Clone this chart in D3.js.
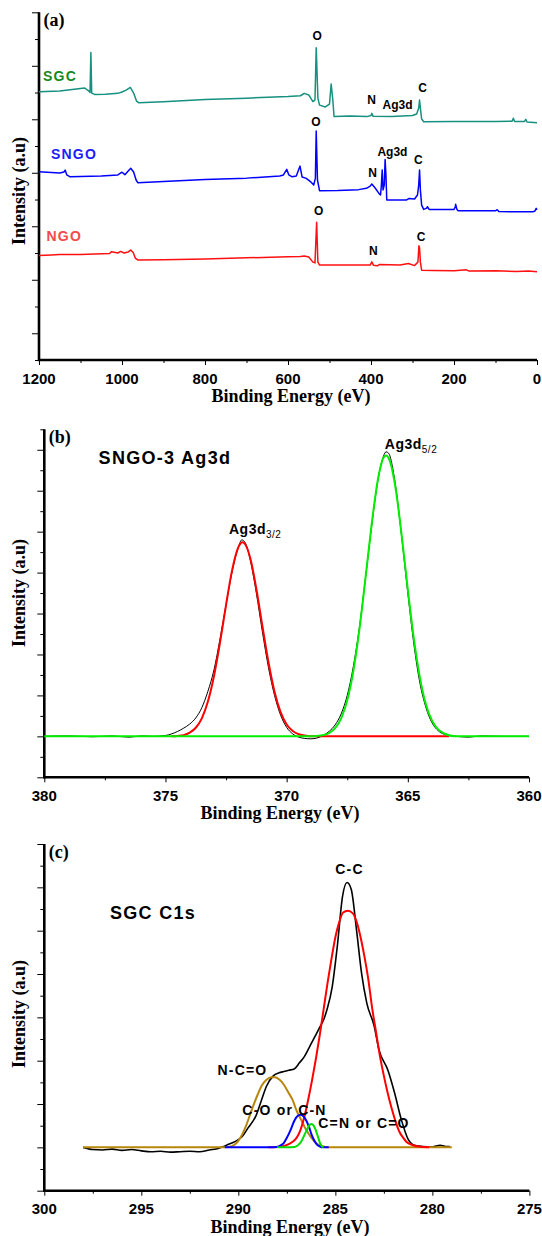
<!DOCTYPE html>
<html>
<head>
<meta charset="utf-8">
<script src="https://cdn.jsdelivr.net/npm/d3@7"></script>
<style>
  body { margin: 0; background: #fff; }
  svg { display: block; }
  .tick-label { font: bold 15px "Liberation Sans", Arial, sans-serif; fill: #000; }
  .axis-title { font: bold 18px "Liberation Serif", "Times New Roman", serif; fill: #000; }
  .panel-tag { font: bold 18px "Liberation Serif", "Times New Roman", serif; fill: #000; }
  .peak-label { font: bold 12px "Liberation Sans", Arial, sans-serif; fill: #000; }
  .series-label { font: bold 14px "Liberation Sans", Arial, sans-serif; letter-spacing: 1.2px; }
  .big-label { font: bold 18px "Liberation Sans", Arial, sans-serif; letter-spacing: 1.3px; fill: #000; }
  .fit-label { font: bold 14px "Liberation Sans", Arial, sans-serif; letter-spacing: 1.2px; fill: #000; }
</style>
</head>
<body>
<svg id="chart" width="542" height="1236"></svg>
<script>
// tick labels
const surveyTicks = [1200, 1000, 800, 600, 400, 200, 0];
const ag3dTicks = [380, 375, 370, 365, 360];
const c1sTicks = [300, 295, 290, 285, 280, 275];

// (a) survey spectra: [binding energy, intensity]
const sgcSurvey = [
  [1200, 10.03], [1150, 10.06], [1100, 10.15], [1090, 10.17], [1080, 10.06], [1077, 10.0], [1075, 11.5],
  [1073, 9.98], [1066, 9.93], [1040, 9.94], [1010, 9.97], [1000, 10.02], [990, 10.09], [980, 10.19],
  [972, 9.98], [965, 9.68], [960, 9.62], [900, 9.66], [800, 9.74], [700, 9.79], [600, 9.85], [570, 9.88],
  [561, 9.97], [550, 9.91], [540, 9.66], [535, 9.72], [532, 11.67], [528, 9.79], [524, 9.53], [510, 9.46],
  [500, 9.57], [496, 10.32], [492, 9.72], [489, 9.1], [450, 9.12], [410, 9.1], [400, 9.14], [398, 9.22],
  [395, 9.11], [350, 9.1], [300, 9.14], [290, 9.2], [285, 9.42], [283, 9.72], [281, 9.42], [278, 9.01],
  [273, 8.91], [200, 8.92], [100, 8.92], [60, 8.93], [57, 9.04], [54, 8.92], [30, 8.92], [27, 9.0],
  [24, 8.9], [0, 8.87]
];
const sngoSurvey = [
  [1200, 7.04], [1150, 6.99], [1140, 7.03], [1137, 7.1], [1133, 6.92], [1125, 6.85], [1050, 6.88],
  [1010, 6.92], [1000, 7.02], [993, 6.93], [985, 7.07], [979, 7.17], [972, 7.03], [966, 6.73], [962, 6.63],
  [900, 6.67], [800, 6.75], [700, 6.8], [620, 6.88], [611, 6.92], [603, 7.13], [598, 6.92], [590, 6.85],
  [580, 6.88], [571, 7.25], [566, 6.84], [556, 6.79], [546, 6.67], [538, 6.54], [534, 6.8], [532, 8.56],
  [529, 6.73], [524, 6.33], [480, 6.34], [430, 6.37], [411, 6.42], [402, 6.5], [398, 6.58], [390, 6.43],
  [380, 6.21], [377, 6.17], [375, 6.54], [373, 7.1], [371, 6.36], [368, 6.54], [366, 7.5], [364, 6.92],
  [362, 5.98], [315, 5.98], [308, 6.04], [295, 6.02], [288, 6.17], [285, 6.54], [283, 7.1], [281, 6.36],
  [278, 5.79], [273, 5.63], [266, 5.68], [264, 5.73], [260, 5.63], [200, 5.63], [197, 5.72], [196, 5.82],
  [193, 5.63], [190, 5.58], [100, 5.58], [96, 5.62], [92, 5.55], [30, 5.54], [10, 5.54], [5, 5.57],
  [2, 5.67], [0, 5.61]
];
const ngoSurvey = [
  [1200, 3.91], [1170, 3.93], [1150, 3.94], [1100, 3.94], [1030, 3.98], [1025, 4.05], [1010, 4.0],
  [1003, 4.06], [995, 4.0], [985, 4.04], [979, 4.11], [973, 4.02], [968, 3.81], [962, 3.74], [900, 3.75],
  [800, 3.78], [700, 3.82], [600, 3.86], [570, 3.87], [561, 3.89], [550, 3.85], [540, 3.66], [535, 3.63],
  [531, 5.15], [528, 3.66], [524, 3.55], [450, 3.55], [402, 3.55], [398, 3.67], [394, 3.54], [385, 3.52],
  [380, 3.57], [330, 3.55], [310, 3.61], [295, 3.53], [287, 3.66], [284.5, 4.27], [283, 4.19], [281, 3.66],
  [278, 3.36], [250, 3.35], [200, 3.34], [170, 3.37], [165, 3.33], [100, 3.34], [50, 3.31], [20, 3.33],
  [0, 3.3]
];
const surveyPeakLabels = [
  ['O', 530, 12.11], ['N', 398.6, 9.72], ['Ag3d', 336, 9.53], ['C', 275.7, 10.19],
  ['O', 532.5, 8.91], ['N', 396, 7.0], ['Ag3d', 348.4, 7.79], ['C', 285.8, 7.5],
  ['O', 526.3, 5.58], ['N', 394.2, 4.09], ['C', 279.5, 4.61]
];

// (b) Ag3d region
const ag3dRaw = [
  [380, 0], [379, 0.01], [378, -0.01], [377.2, 0.01], [376.5, -0.02], [376, 0.01], [375.5, 0],
  [375, 0.02], [374.75, 0.06], [374.5, 0.12], [374.25, 0.2], [374, 0.3], [373.75, 0.45], [373.5, 0.7],
  [373.25, 1.1], [373, 1.62], [372.75, 2.38], [372.5, 3.22], [372.25, 4.02], [372, 4.6], [371.85, 4.8],
  [371.7, 4.72], [371.5, 4.3], [371.25, 3.5], [371, 2.55], [370.75, 1.68], [370.5, 1.0], [370.25, 0.52],
  [370, 0.22], [369.75, 0.06], [369.5, -0.02], [369.25, -0.05], [369, -0.06], [368.75, -0.04],
  [368.5, 0.02], [368.25, 0.12], [368, 0.28], [367.75, 0.55], [367.5, 1.0], [367.25, 1.7], [367, 2.65],
  [366.75, 3.85], [366.5, 5.1], [366.25, 6.2], [366, 6.85], [365.9, 6.95], [365.8, 6.92], [365.5, 6.1],
  [365.25, 4.85], [365, 3.5], [364.75, 2.25], [364.5, 1.3], [364.25, 0.7], [364, 0.33], [363.75, 0.14],
  [363.5, 0.05], [363.25, 0.01], [363, 0], [362.5, -0.02], [362, 0.01], [361, 0], [360, 0]
];
const ag3d32Fit = [
  [374.75, 0], [374.5, 0.01], [374.25, 0.03], [374, 0.09], [373.75, 0.21], [373.5, 0.44], [373.25, 0.85],
  [373, 1.47], [372.75, 2.29], [372.5, 3.21], [372.25, 4.06], [372, 4.61], [371.82, 4.74], [371.75, 4.72],
  [371.5, 4.35], [371.25, 3.6], [371, 2.69], [370.75, 1.81], [370.5, 1.09], [370.25, 0.59], [370, 0.29],
  [369.75, 0.13], [369.5, 0.05], [369.25, 0.02], [369, 0], [363.3, 0]
];
const ag3d52Fit = [
  [380, 0], [369, 0], [368.75, 0.01], [368.5, 0.03], [368.25, 0.08], [368, 0.2], [367.75, 0.44],
  [367.5, 0.88], [367.25, 1.59], [367, 2.6], [366.75, 3.85], [366.5, 5.14], [366.25, 6.22], [366, 6.81],
  [365.9, 6.86], [365.75, 6.74], [365.5, 6.04], [365.25, 4.89], [365, 3.59], [364.75, 2.38], [364.5, 1.43],
  [364.25, 0.77], [364, 0.38], [363.75, 0.17], [363.5, 0.07], [363.25, 0.02], [363, 0], [360, 0]
];

// (c) C1s region
const c1sRaw = [
  [298, 0], [297.5, -0.05], [297, -0.06], [296.5, -0.04], [296, -0.07], [295.5, -0.05], [295, -0.08],
  [294.5, -0.1], [294, -0.09], [293.5, -0.11], [293, -0.1], [292.5, -0.09], [292, -0.1], [291.5, -0.06],
  [291, -0.02], [290.87, 0], [290.5, 0.07], [290.33, 0.1], [290, 0.18], [289.8, 0.25], [289.5, 0.45],
  [289.1, 0.72], [288.8, 1.1], [288.55, 1.41], [288.2, 1.65], [287.9, 1.72], [287.66, 1.75], [287.4, 1.78],
  [287.12, 1.81], [286.85, 1.95], [286.59, 2.1], [286.3, 2.35], [286.05, 2.56], [285.78, 2.79],
  [285.6, 2.95], [285.43, 3.18], [285.16, 3.71], [284.9, 4.64], [284.63, 5.79], [284.4, 6.11],
  [284.18, 5.95], [283.91, 5.02], [283.65, 4.02], [283.38, 3.33], [283, 2.8], [282.75, 2.25], [282.3, 1.79],
  [281.95, 1.26], [281.6, 0.64], [281.24, 0.18], [280.88, 0.04], [280.5, 0.02], [280, 0.01], [279.6, 0.05],
  [279.3, 0.02], [279.1, 0.02]
];
const ccFit = [
  [288.46, 0], [288, 0.01], [287.6, 0.04], [287.2, 0.13], [287, 0.22], [286.8, 0.4], [286.6, 0.7],
  [286.4, 1.1], [286.2, 1.55], [286, 2.05], [285.8, 2.6], [285.6, 3.2], [285.4, 3.8], [285.2, 4.35],
  [285, 4.85], [284.8, 5.2], [284.6, 5.42], [284.36, 5.46], [284.1, 5.4], [283.9, 5.2], [283.7, 4.85],
  [283.5, 4.4], [283.3, 3.87], [283.1, 3.2], [282.9, 2.65], [282.7, 2.1], [282.5, 1.65], [282.3, 1.25],
  [282.1, 0.9], [281.9, 0.6], [281.7, 0.36], [281.5, 0.22], [281.3, 0.11], [281, 0.05], [280.7, 0.02],
  [280.17, 0]
];
const ncoFit = [
  [298, 0], [291, 0], [290.5, 0.01], [290.2, 0.06], [290, 0.15], [289.8, 0.3], [289.6, 0.5], [289.4, 0.75],
  [289.2, 1.0], [289, 1.22], [288.8, 1.42], [288.55, 1.56], [288.3, 1.62], [288.1, 1.62], [287.9, 1.57],
  [287.66, 1.45], [287.4, 1.25], [287.21, 1.1], [287, 0.85], [286.77, 0.64], [286.5, 0.4], [286.23, 0.22],
  [286, 0.1], [285.7, 0.03], [285.34, 0], [279, 0]
];
const coFit = [
  [290.7, 0], [288.5, 0], [288, 0.01], [287.8, 0.05], [287.66, 0.1], [287.5, 0.22], [287.3, 0.41],
  [287.15, 0.58], [287.03, 0.68], [286.9, 0.74], [286.8, 0.75], [286.65, 0.72], [286.5, 0.62],
  [286.35, 0.46], [286.23, 0.3], [286.1, 0.17], [285.96, 0.07], [285.8, 0.02], [285.61, 0], [285.34, 0]
];
const cnFit = [
  [288, 0], [287.1, 0.01], [286.9, 0.06], [286.75, 0.14], [286.6, 0.28], [286.45, 0.42], [286.32, 0.52],
  [286.23, 0.54], [286.12, 0.5], [286.02, 0.41], [285.9, 0.25], [285.79, 0.1], [285.7, 0.03], [285.61, 0]
];

(function () {
  const svg = d3.select('#chart');
  const SANS = '"Liberation Sans", Arial, sans-serif';

  function halfSteps (from, to) {
    return d3.range(from, to + 0.01, 1);
  }

  function createPanel (cfg) {
    const x = d3.scaleLinear().domain(cfg.xDomain).range([cfg.left, cfg.right]);
    const y = d3.scaleLinear().domain(cfg.yDomain).range([cfg.bottom, cfg.top]);
    const g = svg.append('g');

    // x ticks (down), minor then major
    g.append('g')
      .attr('transform', 'translate(0,' + cfg.bottom + ')')
      .call(d3.axisBottom(x).tickValues(cfg.xMinor).tickSize(3).tickSizeOuter(0).tickFormat(''))
      .call(a => a.select('.domain').remove());
    g.append('g')
      .attr('transform', 'translate(0,' + cfg.bottom + ')')
      .call(d3.axisBottom(x).tickValues(cfg.xTicks).tickSize(5).tickSizeOuter(0).tickFormat(''))
      .call(a => a.select('.domain').remove());
    // y ticks (left)
    g.append('g')
      .attr('transform', 'translate(' + cfg.left + ',0)')
      .call(d3.axisLeft(y).tickValues(cfg.yMinor).tickSize(4).tickSizeOuter(0).tickFormat(''))
      .call(a => a.select('.domain').remove());
    g.append('g')
      .attr('transform', 'translate(' + cfg.left + ',0)')
      .call(d3.axisLeft(y).tickValues(cfg.yMajor).tickSize(7).tickSizeOuter(0).tickFormat(''))
      .call(a => a.select('.domain').remove());
    g.selectAll('.tick line').attr('stroke', '#000');

    g.append('line')
      .attr('x1', cfg.left).attr('x2', cfg.right)
      .attr('y1', cfg.bottom).attr('y2', cfg.bottom)
      .attr('stroke', '#000').attr('stroke-width', 2.6);
    g.append('line')
      .attr('x1', cfg.left).attr('x2', cfg.left)
      .attr('y1', cfg.bottom + 1.3).attr('y2', cfg.top)
      .attr('stroke', '#000').attr('stroke-width', 2.6);

    g.selectAll('text.tick-label')
      .data(cfg.xTicks)
      .enter().append('text')
      .attr('class', 'tick-label')
      .attr('x', d => x(d))
      .attr('y', cfg.bottom + 23.5)
      .attr('text-anchor', 'middle')
      .text(d => d);

    g.append('text')
      .attr('class', 'axis-title')
      .attr('x', cfg.titleX)
      .attr('y', cfg.bottom + 42)
      .attr('text-anchor', 'middle')
      .text('Binding Energy (eV)');
    g.append('text')
      .attr('class', 'axis-title')
      .attr('transform', 'translate(25,' + cfg.yTitleY + ') rotate(-90)')
      .attr('text-anchor', 'middle')
      .text('Intensity (a.u)');
    g.append('text')
      .attr('class', 'panel-tag')
      .attr('x', cfg.left + 4.5)
      .attr('y', cfg.top + 14)
      .text(cfg.tag);

    return { g: g, x: x, y: y };
  }

  function drawSeries (panel, data, color, width, curve) {
    const line = d3.line()
      .x(d => panel.x(d[0]))
      .y(d => panel.y(d[1]))
      .curve(curve || d3.curveLinear);
    panel.g.append('path')
      .datum(data)
      .attr('d', line)
      .attr('fill', 'none')
      .attr('stroke', color)
      .attr('stroke-width', width)
      .attr('stroke-linejoin', 'round');
  }

  function subscriptLabel (g, x, y, main, sub) {
    const t = g.append('text')
      .attr('x', x).attr('y', y)
      .style('font', 'bold 14px ' + SANS)
      .style('letter-spacing', '0.5px');
    t.append('tspan').text(main);
    t.append('tspan')
      .attr('dy', 4)
      .style('font-size', '10px')
      .style('font-weight', 'normal')
      .text(sub);
  }

  // (a) survey
  const survey = createPanel({
    left: 39, right: 537, top: 12.3, bottom: 360,
    xDomain: [1200, 0], yDomain: [0, 13],
    xTicks: surveyTicks, xMinor: d3.range(1100, 0, -200),
    yMajor: d3.range(1, 14, 2), yMinor: d3.range(0, 13, 2),
    titleX: 291, yTitleY: 191, tag: '(a)'
  });
  drawSeries(survey, sgcSurvey, '#16907f', 1.5);
  drawSeries(survey, sngoSurvey, '#0000ff', 1.5);
  drawSeries(survey, ngoSurvey, '#ff1010', 1.5);
  survey.g.selectAll('text.peak-label')
    .data(surveyPeakLabels)
    .enter().append('text')
    .attr('class', 'peak-label')
    .attr('x', d => survey.x(d[1]))
    .attr('y', d => survey.y(d[2]))
    .attr('dy', '0.36em')
    .attr('text-anchor', 'middle')
    .text(d => d[0]);
  [['SGC', 43, 76, '#16891c'], ['SNGO', 51, 154, '#1c1cff'], ['NGO', 46.5, 236, '#f24a4a']]
    .forEach(function (s) {
      survey.g.append('text')
        .attr('class', 'series-label')
        .attr('x', s[1]).attr('y', s[2])
        .attr('dy', '0.36em')
        .attr('fill', s[3])
        .text(s[0]);
    });

  // (b) Ag3d
  const ag3d = createPanel({
    left: 44.3, right: 529, top: 429.3, bottom: 777.3,
    xDomain: [380, 360], yDomain: [-1, 7.5],
    xTicks: ag3dTicks, xMinor: [377.5, 372.5, 367.5, 362.5],
    yMajor: halfSteps(-1, 7), yMinor: halfSteps(-0.5, 7.5),
    titleX: 280, yTitleY: 593, tag: '(b)'
  });
  drawSeries(ag3d, ag3dRaw, '#000', 1, d3.curveMonotoneX);
  drawSeries(ag3d, ag3d32Fit, '#ff0000', 2, d3.curveMonotoneX);
  drawSeries(ag3d, ag3d52Fit, '#00ee00', 2, d3.curveMonotoneX);
  ag3d.g.append('text')
    .attr('class', 'big-label')
    .attr('x', 98.6).attr('y', 463.5)
    .text('SNGO-3 Ag3d');
  subscriptLabel(ag3d.g, 229, 533.5, 'Ag3d', '3/2');
  subscriptLabel(ag3d.g, 384.8, 448.5, 'Ag3d', '5/2');

  // (c) C1s
  const c1s = createPanel({
    left: 44.3, right: 529.4, top: 844, bottom: 1190.7,
    xDomain: [300, 275], yDomain: [-1, 7],
    xTicks: c1sTicks, xMinor: [297.5, 292.5, 287.5, 282.5, 277.5],
    yMajor: halfSteps(-1, 7), yMinor: halfSteps(-0.5, 6.5),
    titleX: 290, yTitleY: 1014, tag: '(c)'
  });
  drawSeries(c1s, c1sRaw, '#000', 1.6, d3.curveMonotoneX);
  drawSeries(c1s, ncoFit, '#b8860b', 2, d3.curveMonotoneX);
  drawSeries(c1s, ccFit, '#ff0000', 2, d3.curveMonotoneX);
  drawSeries(c1s, coFit, '#0000ff', 2, d3.curveMonotoneX);
  drawSeries(c1s, cnFit, '#00dd00', 2, d3.curveMonotoneX);
  c1s.g.append('text')
    .attr('class', 'big-label')
    .attr('x', 110).attr('y', 919)
    .text('SGC C1s');
  [['C-C', 349.5, 874.3], ['N-C=O', 242.5, 1075], ['C-O or C-N', 284.5, 1115], ['C=N or C=O', 364, 1128.3]]
    .forEach(function (l) {
      c1s.g.append('text')
        .attr('class', 'fit-label')
        .attr('x', l[1]).attr('y', l[2])
        .attr('text-anchor', 'middle')
        .text(l[0]);
    });
}());
</script>
</body>
</html>
